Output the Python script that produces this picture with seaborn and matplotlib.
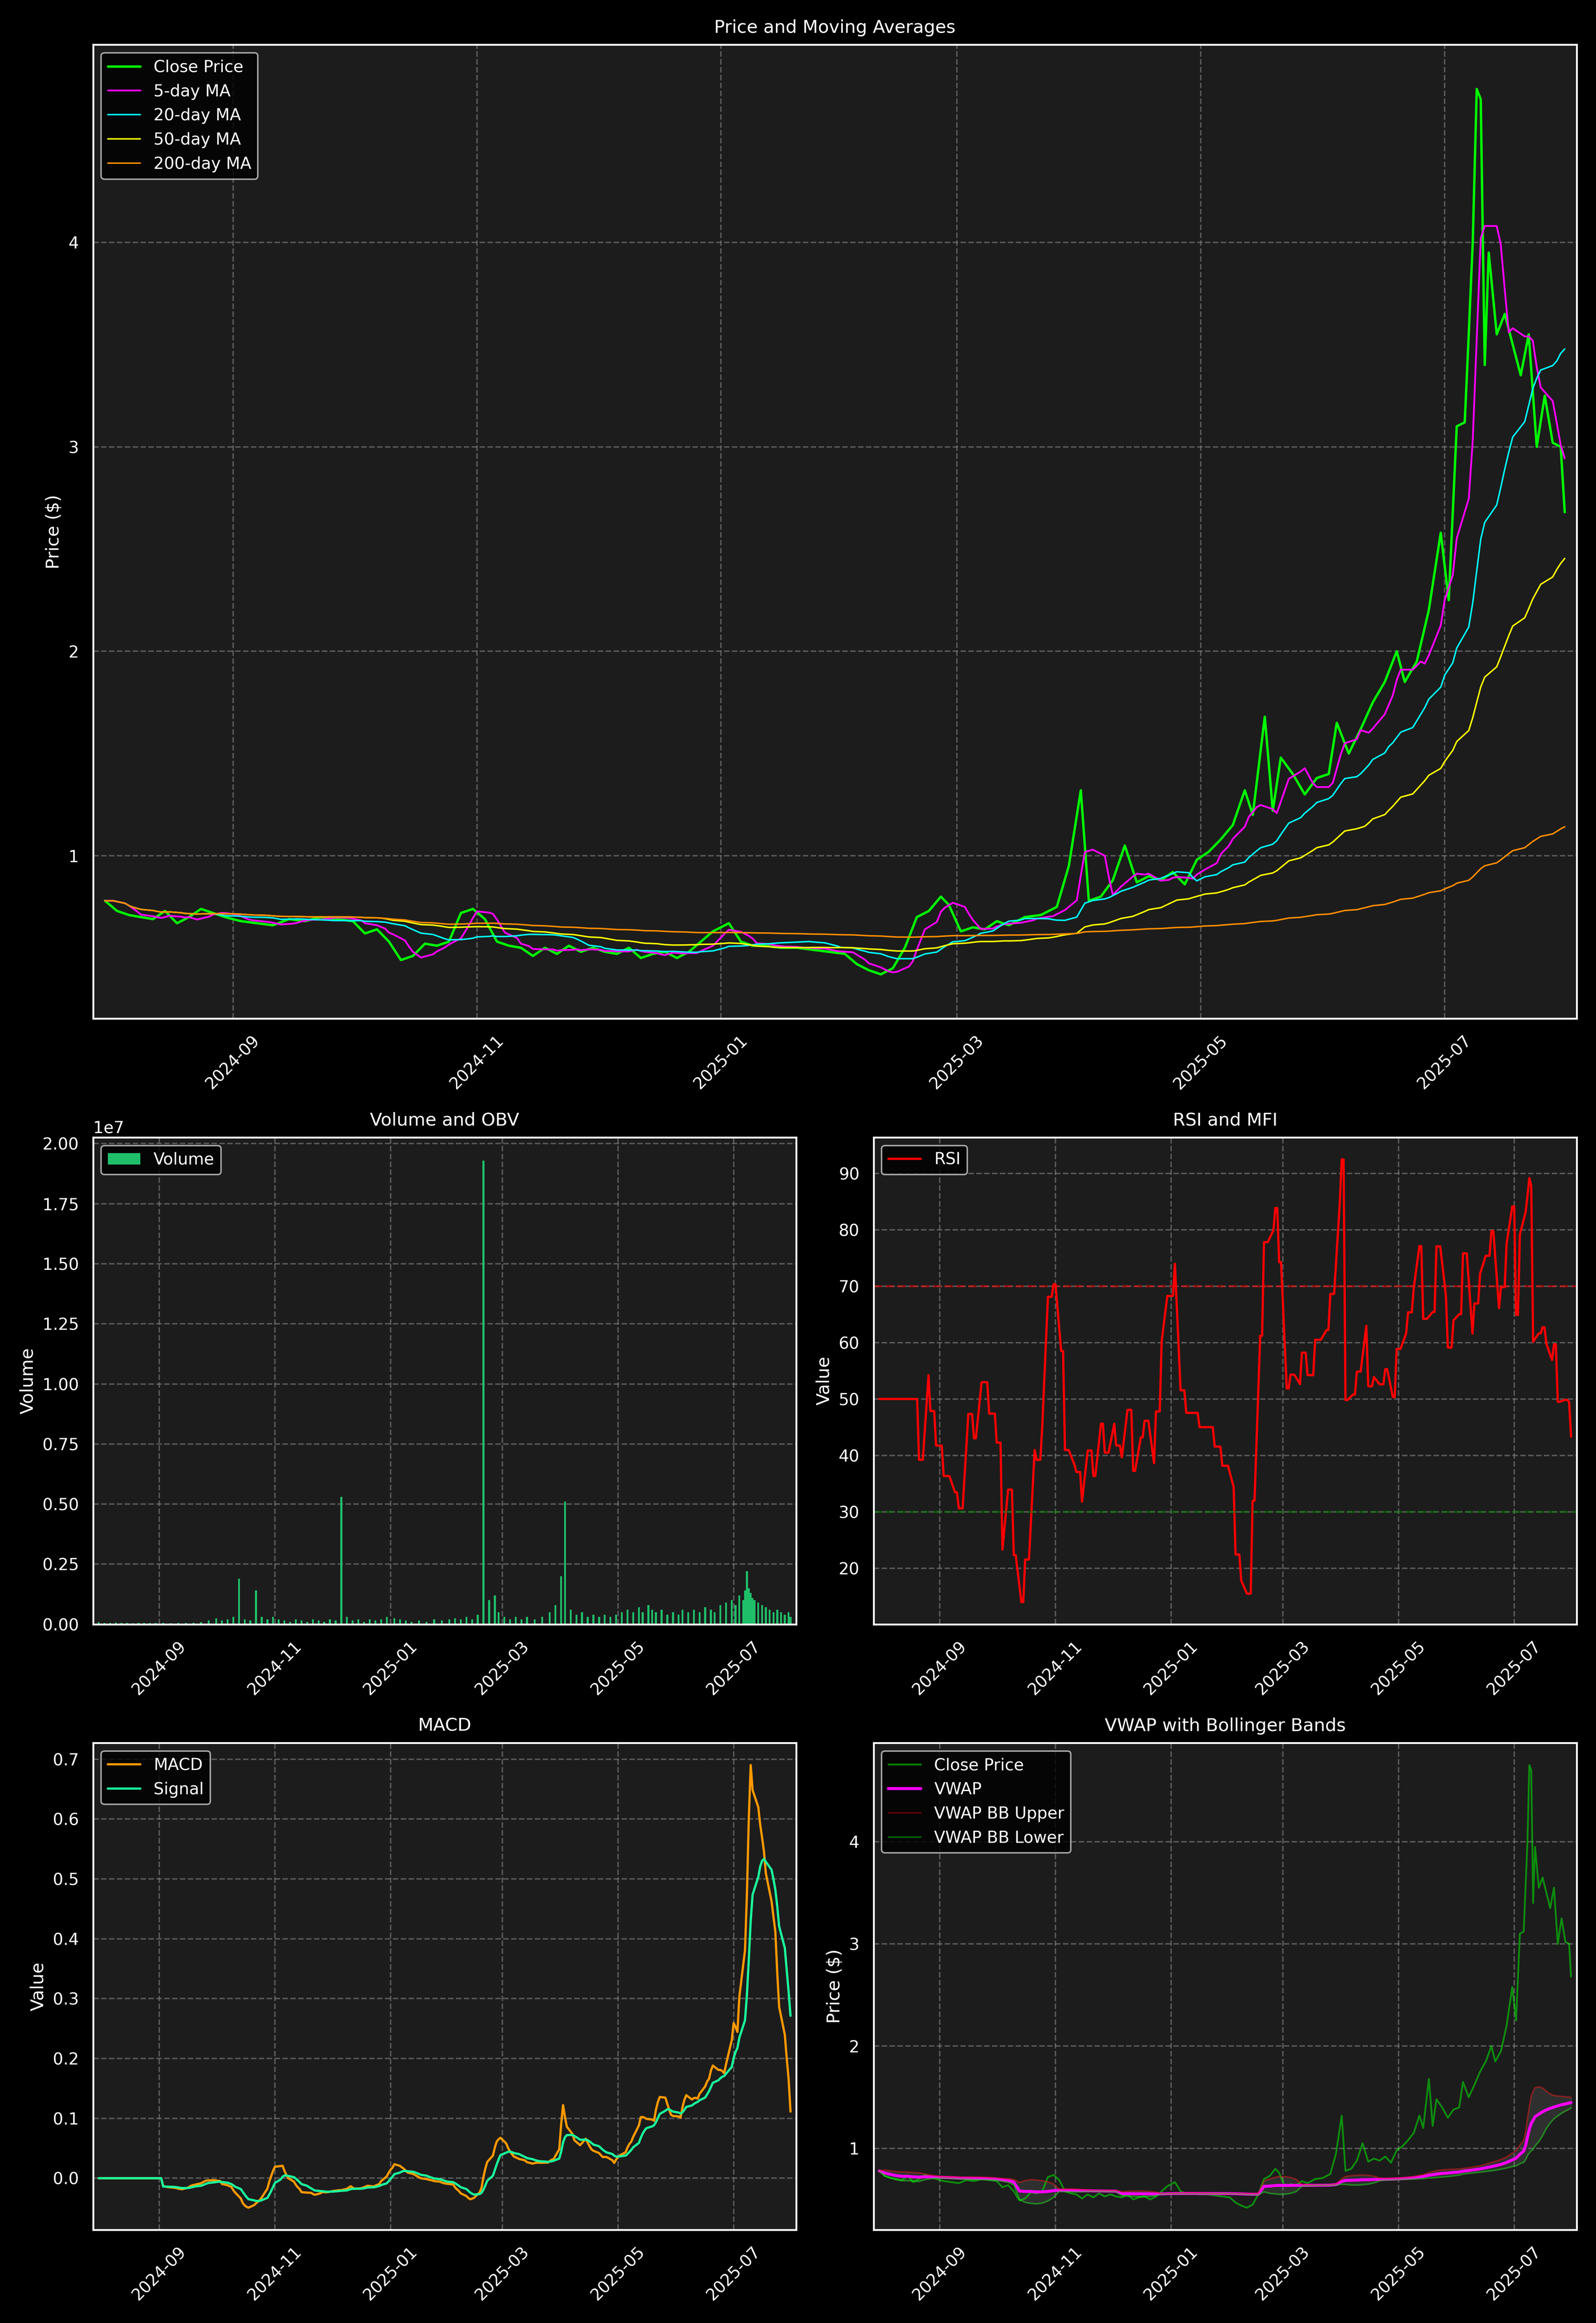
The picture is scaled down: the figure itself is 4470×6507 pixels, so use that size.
import numpy as np
import pandas as pd
import matplotlib
matplotlib.use("Agg")
import matplotlib.pyplot as plt
import matplotlib.dates as mdates
import seaborn as sns

dates = ["2024-07-31","2024-08-03","2024-08-06","2024-08-09","2024-08-12","2024-08-15","2024-08-18","2024-08-21","2024-08-24","2024-08-27",
"2024-08-30","2024-09-03","2024-09-07","2024-09-11","2024-09-15","2024-09-19","2024-09-23","2024-09-27","2024-10-01","2024-10-04",
"2024-10-07","2024-10-10","2024-10-13","2024-10-16","2024-10-19","2024-10-22","2024-10-25","2024-10-28","2024-10-31","2024-11-03",
"2024-11-06","2024-11-09","2024-11-12","2024-11-15","2024-11-18","2024-11-21","2024-11-24","2024-11-27","2024-11-30","2024-12-03",
"2024-12-06","2024-12-09","2024-12-12","2024-12-15","2024-12-18","2024-12-21","2024-12-24","2024-12-27","2024-12-30","2025-01-03",
"2025-01-06","2025-01-09","2025-01-12","2025-01-16","2025-01-20","2025-01-24","2025-01-28","2025-02-01","2025-02-04","2025-02-07",
"2025-02-10","2025-02-13","2025-02-16","2025-02-19","2025-02-22","2025-02-25","2025-02-27","2025-03-02","2025-03-05","2025-03-08",
"2025-03-11","2025-03-14","2025-03-18","2025-03-22","2025-03-26","2025-03-29","2025-04-01","2025-04-03","2025-04-06","2025-04-09",
"2025-04-12","2025-04-15","2025-04-18","2025-04-21","2025-04-24","2025-04-27","2025-04-30","2025-05-03","2025-05-06","2025-05-09",
"2025-05-12","2025-05-14","2025-05-17","2025-05-19","2025-05-21","2025-05-24","2025-05-27","2025-05-30","2025-06-02","2025-06-04",
"2025-06-07","2025-06-10","2025-06-13","2025-06-16","2025-06-19","2025-06-21","2025-06-24","2025-06-27","2025-06-30","2025-07-02",
"2025-07-04","2025-07-06","2025-07-07","2025-07-08","2025-07-09","2025-07-10","2025-07-11","2025-07-12","2025-07-14","2025-07-16",
"2025-07-18","2025-07-20","2025-07-22","2025-07-24","2025-07-26","2025-07-28","2025-07-30","2025-07-31"]
close = [0.78,0.73,0.71,0.70,0.69,0.73,0.67,0.70,0.74,0.72,
0.70,0.68,0.67,0.66,0.69,0.68,0.70,0.69,0.68,0.62,
0.64,0.58,0.49,0.51,0.57,0.56,0.58,0.72,0.74,0.69,
0.58,0.56,0.55,0.51,0.55,0.52,0.56,0.53,0.55,0.53,
0.52,0.55,0.50,0.52,0.53,0.50,0.53,0.58,0.63,0.67,
0.58,0.56,0.56,0.55,0.55,0.54,0.53,0.52,0.47,0.44,
0.42,0.45,0.55,0.70,0.73,0.80,0.76,0.63,0.65,0.64,
0.68,0.66,0.70,0.71,0.75,0.95,1.32,0.78,0.80,0.88,
1.05,0.87,0.90,0.88,0.92,0.86,0.98,1.02,1.08,1.15,
1.32,1.20,1.68,1.22,1.48,1.40,1.30,1.38,1.40,1.65,
1.50,1.62,1.75,1.85,2.00,1.85,1.95,2.20,2.58,2.25,
3.10,3.12,3.55,4.00,4.75,4.70,3.40,3.95,3.55,3.65,
3.50,3.35,3.55,3.00,3.25,3.02,3.00,2.68]
volume = [8e4,6e4,5e4,7e4,5e4,6e4,4e4,5e4,6e4,5e4,
5e4,6e4,4e4,5e4,6e4,5e4,8e4,1.5e5,2.5e5,1.5e5,
2e5,3e5,1.9e6,2e5,1.5e5,1.4e6,3e5,2e5,3e5,2e5,
1.5e5,1e5,2e5,1.5e5,1e5,2e5,1.5e5,1e5,2e5,1.5e5,
5.3e6,3e5,1.5e5,2e5,1e5,2e5,1.5e5,2e5,3e5,2.5e5,
2e5,1.5e5,1e5,1.5e5,1e5,2e5,1.5e5,2e5,2.5e5,2e5,
3e5,2e5,4e5,1.93e7,1e6,1.2e6,5e5,3e5,2e5,3e5,
2e5,3e5,2e5,3e5,5e5,8e5,2e6,5.1e6,6e5,4e5,
5e5,3e5,4e5,3e5,4e5,3e5,4e5,5e5,6e5,5e5,
7e5,5e5,8e5,6e5,5e5,6e5,4e5,5e5,4e5,6e5,
5e5,6e5,5e5,7e5,6e5,5e5,8e5,9e5,1e6,8e5,
1.2e6,1e6,1.4e6,2.2e6,1.5e6,1.3e6,1.1e6,1e6,9e5,8e5,
7e5,6e5,5e5,6e5,5e5,4e5,5e5,3e5]

df = pd.DataFrame({"Date": pd.to_datetime(dates), "Close": close, "Volume": volume}).set_index("Date")

bidx = pd.bdate_range(df.index[0], df.index[-1])
cb = df["Close"].reindex(df.index.union(bidx)).ffill().reindex(bidx)
ind = pd.DataFrame(index=bidx)
for w in (5, 20, 50, 200):
    ind[f"MA{w}"] = cb.rolling(w, min_periods=1).mean()
d = cb.diff()
gain = d.clip(lower=0).ewm(alpha=1/14, adjust=False).mean()
loss = (-d.clip(upper=0)).ewm(alpha=1/14, adjust=False).mean()
rsi = 100 - 100 / (1 + gain / loss.replace(0, np.nan))
rsi.iloc[:15] = 50
ind["RSI"] = rsi.ffill().fillna(50)
ema12 = cb.ewm(span=12, adjust=False).mean()
ema26 = cb.ewm(span=26, adjust=False).mean()
macd = ema12 - ema26
sig = macd.ewm(span=9, adjust=False).mean()
macd.iloc[:24] = 0; sig.iloc[:24] = 0
ind["MACD"] = macd; ind["Signal"] = sig
ind = ind.reset_index().rename(columns={"index": "Date"})

c = df["Close"]
df["VWAP"] = (c * df["Volume"]).cumsum() / df["Volume"].cumsum()
sd = df["VWAP"].rolling(8, min_periods=1).std().fillna(0)
df["BBU"] = df["VWAP"] + 2 * sd
df["BBL"] = df["VWAP"] - 2 * sd
df = df.reset_index()

sns.set_theme(style="darkgrid")
plt.style.use("dark_background")
plt.rcParams["font.family"] = ["DejaVu Sans"]
fig = plt.figure(figsize=(14.9, 21.69), dpi=300, facecolor="black")
gs = fig.add_gridspec(3, 2, height_ratios=[2, 1, 1])
ax0 = fig.add_subplot(gs[0, :])
ax1 = fig.add_subplot(gs[1, 0]); ax2 = fig.add_subplot(gs[1, 1])
ax3 = fig.add_subplot(gs[2, 0]); ax4 = fig.add_subplot(gs[2, 1])

def style(ax, title, ylabel):
    ax.set_facecolor("#1c1c1c")
    ax.grid(True, linestyle="--", color="gray", alpha=0.6)
    ax.set_title(title, fontsize=12, pad=8)
    ax.set_ylabel(ylabel); ax.set_xlabel("")
    ax.xaxis.set_major_locator(mdates.MonthLocator(bymonth=[1,3,5,7,9,11]))
    ax.xaxis.set_major_formatter(mdates.DateFormatter("%Y-%m"))
    for lb in ax.get_xticklabels():
        lb.set_rotation(45)
    ax.set_xlim(df["Date"].iloc[0] - pd.Timedelta(days=3), df["Date"].iloc[-1] + pd.Timedelta(days=3))

sns.lineplot(data=df, x="Date", y="Close", ax=ax0, color="#00ff00", label="Close Price", linewidth=1.6)
for col, colr, lab, lw in [("MA5","#ff00ff","5-day MA",1.2),
                           ("MA20","#00ffff","20-day MA",1.0),("MA50","#ffff00","50-day MA",1.0),("MA200","#ff8c00","200-day MA",1.0)]:
    sns.lineplot(data=ind, x="Date", y=col, ax=ax0, color=colr, label=lab, linewidth=lw)
style(ax0, "Price and Moving Averages", "Price ($)")
ax0.legend(loc="upper left", facecolor="black")

ax1.bar(df["Date"], df["Volume"], width=1.0, color="#1fbf6a", linewidth=0, label="Volume")
style(ax1, "Volume and OBV", "Volume")
ax1.legend(loc="upper left", facecolor="black")

sns.lineplot(data=ind, x="Date", y="RSI", ax=ax2, color="red", label="RSI", linewidth=1.5)
ax2.axhline(70, color="red", alpha=0.5, linestyle="--")
ax2.axhline(30, color="green", alpha=0.5, linestyle="--")
style(ax2, "RSI and MFI", "Value")
ax2.legend(loc="upper left", facecolor="black")

sns.lineplot(data=ind, x="Date", y="MACD", ax=ax3, color="#ff9900", label="MACD", linewidth=1.5)
sns.lineplot(data=ind, x="Date", y="Signal", ax=ax3, color="#1aff9c", label="Signal", linewidth=1.5)
style(ax3, "MACD", "Value")
ax3.legend(loc="upper left", facecolor="black")

sns.lineplot(data=df, x="Date", y="Close", ax=ax4, color="#00ff00", alpha=0.5, label="Close Price", linewidth=1.2)
sns.lineplot(data=df, x="Date", y="VWAP", ax=ax4, color="#ff00ff", label="VWAP", linewidth=2)
sns.lineplot(data=df, x="Date", y="BBU", ax=ax4, color="red", alpha=0.4, label="VWAP BB Upper", linewidth=1)
sns.lineplot(data=df, x="Date", y="BBL", ax=ax4, color="#00ff00", alpha=0.4, label="VWAP BB Lower", linewidth=1)
ax4.fill_between(df["Date"], df["BBL"], df["BBU"], color="gray", alpha=0.2)
style(ax4, "VWAP with Bollinger Bands", "Price ($)")
ax4.legend(loc="upper left", facecolor="black")

fig.tight_layout()
fig.savefig("out.png", dpi=300, facecolor="black")
